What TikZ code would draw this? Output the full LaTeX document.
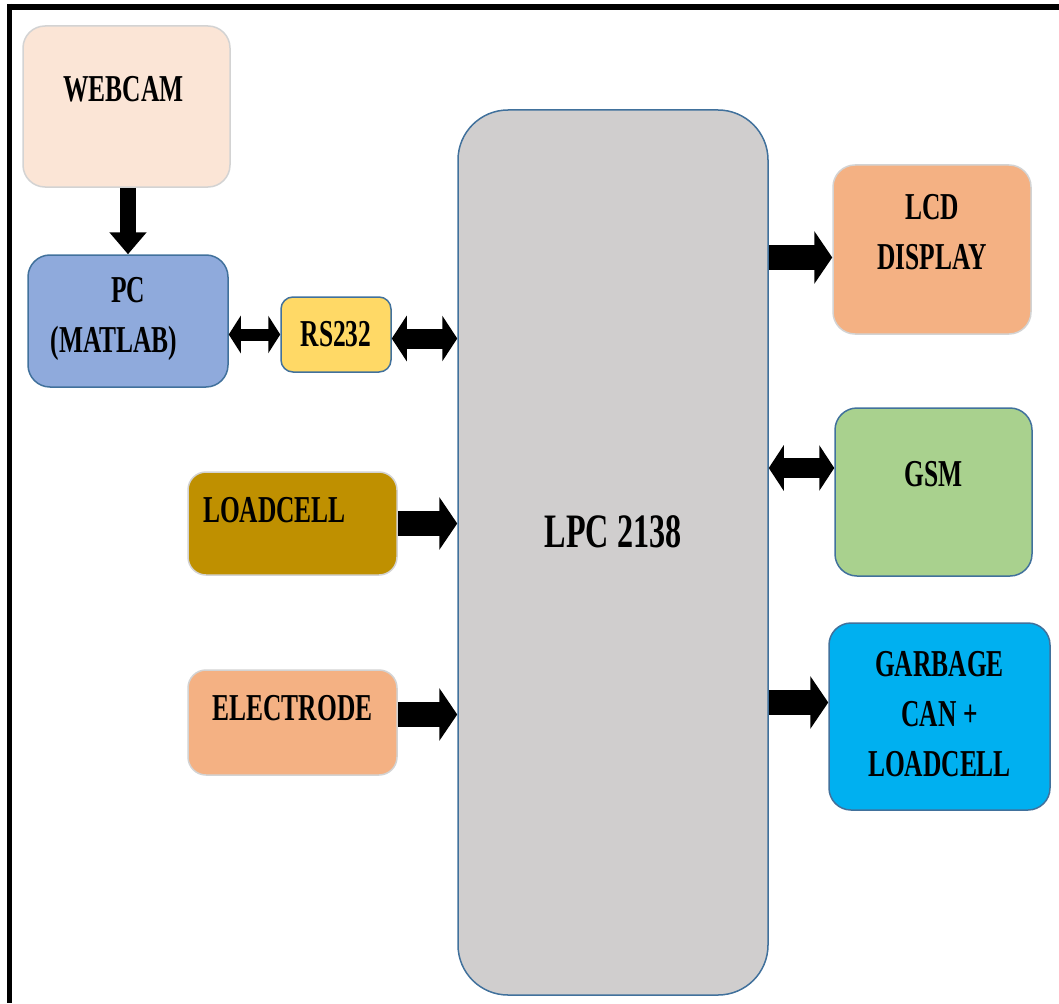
\documentclass[tikz,border=0pt]{standalone}
\usepackage{fontspec}
\setmainfont{Liberation Serif}[FakeStretch=0.67]
\usetikzlibrary{arrows.meta,calc}
\definecolor{cwebcam}{HTML}{FBE5D6}
\definecolor{cpc}{HTML}{8FAADC}
\definecolor{crs}{HTML}{FFD966}
\definecolor{clpc}{HTML}{D0CECE}
\definecolor{corange}{HTML}{F4B183}
\definecolor{cgsm}{HTML}{A9D18E}
\definecolor{cgarb}{HTML}{00B0F0}
\definecolor{cload}{HTML}{BF9000}
\definecolor{bblue}{HTML}{41719C}
\definecolor{bgray}{HTML}{D3D3D3}
\tikzset{
  box/.style={rectangle, rounded corners=22pt, line width=1.5pt, inner sep=0pt, anchor=center},
  bluebox/.style={box, draw=bblue},
  graybox/.style={box, draw=bgray},
  lbl/.style={font=\fontsize{38}{50}\selectfont\bfseries, align=center, inner sep=0pt},
  bigarrow/.style={-{Triangle[length=18pt,width=52pt]}, line width=25pt},
  midarrow/.style={{Triangle[length=15pt,width=45pt]}-{Triangle[length=15pt,width=45pt]}, line width=20pt},
  smallarrow/.style={{Triangle[length=12pt,width=37pt]}-{Triangle[length=12pt,width=37pt]}, line width=12pt},
  downarrow/.style={-{Triangle[length=22pt,width=36pt]}, line width=16pt},
}
\begin{document}
\begin{tikzpicture}[x=1pt,y=-1pt]
\useasboundingbox (0,0) rectangle (1059,1003);
% frame
\draw[line width=6pt] (7,7) -- (1059,7);
\draw[line width=5pt] (9.5,4) -- (9.5,1003);
% boxes
\node[graybox, fill=cwebcam, minimum width=207pt, minimum height=161pt,
  label={[lbl, xshift=-3pt, yshift=17pt]center:WEBCAM}] (webcam) at (126.5,106.5) {};
\node[bluebox, fill=cpc, minimum width=200pt, minimum height=132pt,
  label={[lbl, xshift=-14pt, yshift=2pt]center:\hspace*{28pt}PC\\(MATLAB)}] (pc) at (128,321) {};
\node[bluebox, fill=crs, rounded corners=12pt, minimum width=110pt, minimum height=75pt,
  label={[lbl]center:RS232}] (rs) at (336,334.5) {};
\node[bluebox, fill=clpc, rounded corners=50pt, minimum width=310pt, minimum height=885pt,
  label={[lbl, font=\fontsize{48}{60}\selectfont\bfseries, yshift=21pt]center:LPC 2138}] (lpc) at (613,552.5) {};
\node[graybox, fill=corange, minimum width=198pt, minimum height=169pt,
  label={[lbl, yshift=17pt]center:LCD\\DISPLAY}] (lcd) at (932,249.5) {};
\node[bluebox, fill=cgsm, minimum width=197pt, minimum height=168pt,
  label={[lbl, yshift=18pt]center:GSM}] (gsm) at (933.5,492) {};
\node[bluebox, fill=cgarb, minimum width=221pt, minimum height=187pt,
  label={[lbl, yshift=2pt]center:GARBAGE\\CAN +\\LOADCELL}] (garb) at (939.5,716.5) {};
\node[graybox, fill=cload, rounded corners=18pt, minimum width=209pt, minimum height=103pt,
  label={[lbl, xshift=-18pt, yshift=13pt]center:LOADCELL}] (load) at (292.5,523.5) {};
\node[graybox, fill=corange, rounded corners=18pt, minimum width=209pt, minimum height=105pt,
  label={[lbl, yshift=14pt]center:ELECTRODE}] (elec) at (292.5,722.5) {};
% connectors
\draw[downarrow] (webcam.south -| pc.north) -- (pc.north);
\draw[smallarrow] (rs.west -| pc.east) -- (rs.west);
\draw[midarrow] ([yshift=-4pt]rs.east) -- ([yshift=-4pt]rs.east -| lpc.west);
\draw[bigarrow] (load.east) -- (load.east -| lpc.west);
\draw[bigarrow] ([yshift=8pt]elec.east) -- ([yshift=8pt]elec.east -| lpc.west);
\draw[bigarrow] ([yshift=-8pt]lcd.west -| lpc.east) -- ([yshift=-8pt]lcd.west);
\draw[midarrow] ([yshift=24pt]gsm.west -| lpc.east) -- ([yshift=24pt]gsm.west);
\draw[bigarrow] ([yshift=14pt]garb.west -| lpc.east) -- ([yshift=14pt]garb.west);
\end{tikzpicture}
\end{document}
